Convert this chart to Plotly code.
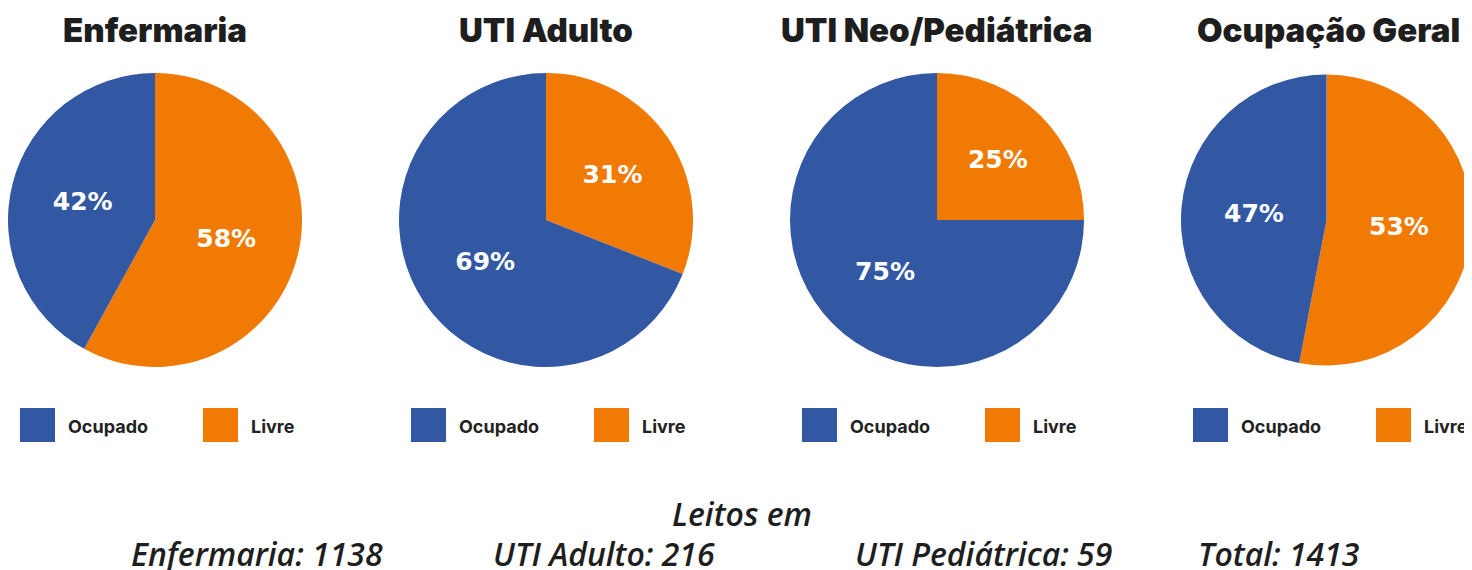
import plotly.graph_objects as go

titles = ["Enfermaria", "UTI Adulto", "UTI Neo/Pediátrica", "Ocupação Geral"]
labels = ["Ocupado", "Livre"]
ocupado = [42, 69, 75, 47]
livre = [58, 31, 25, 53]
footer_head = "Leitos em"
footer_items = ["Enfermaria: 1138", "UTI Adulto: 216", "UTI Pediátrica: 59", "Total: 1413"]

colors = {"Ocupado": "#3258A3", "Livre": "#F07A04"}
OFF = 8  # page body margin
W, H = 1472 - OFF, 570 - OFF
centers = [155, 546, 937, 1328]
R = 147
cy = 220


def px(x):
    return (x - OFF) / W


def py(y):
    return 1 - (y - OFF) / H


fig = go.Figure()
for i, t in enumerate(titles):
    cx = centers[i]
    x0 = max(0, px(cx - R))
    x1 = min(1, px(cx + R))
    slice_labels = ["Livre", "Ocupado"]
    fig.add_trace(go.Pie(
        labels=slice_labels, values=[livre[i], ocupado[i]],
        sort=False, direction="clockwise", rotation=0,
        marker=dict(colors=[colors[l] for l in slice_labels], line=dict(width=0)),
        texttemplate="%{percent:.0%}", textposition="inside",
        insidetextorientation="horizontal",
        textfont=dict(family="DejaVu Sans", size=25, color="white", weight=700),
        domain=dict(x=[x0, x1], y=[py(cy + R), py(cy - R)]),
        showlegend=False, hoverinfo="label+percent",
    ))
    fig.add_annotation(text=t, x=px(cx), y=py(30), xref="paper", yref="paper",
                       showarrow=False, xanchor="center", yanchor="middle",
                       font=dict(family="Inter", size=33, color="#1E1E1E", weight=900))
    off = 391 * i
    for j, lab in enumerate(labels):
        sx = 20 + off + j * 183
        fig.add_shape(type="rect", xref="paper", yref="paper",
                      x0=px(sx), x1=px(sx + 35), y0=py(442), y1=py(408),
                      fillcolor=colors[lab], line=dict(width=0))
        fig.add_annotation(text=lab, x=px(sx + 46), y=py(426), xref="paper", yref="paper",
                           showarrow=False, xanchor="left", yanchor="middle",
                           font=dict(family="Inter", size=18, color="#222222", weight=700))

fig.add_annotation(text=footer_head, x=px(742), y=py(513), xref="paper", yref="paper",
                   showarrow=False, xanchor="center", yanchor="middle",
                   font=dict(family="Open Sans", size=32, color="#1E1E1E", weight=600, style="italic"))
fcx = [257, 604, 983, 1279]
for k, s in enumerate(footer_items):
    fig.add_annotation(text=s, x=px(fcx[k]), y=py(553), xref="paper", yref="paper",
                       showarrow=False, xanchor="center", yanchor="middle",
                       font=dict(family="Open Sans", size=32, color="#1E1E1E", weight=600, style="italic"))

fig.update_layout(width=W, height=H, margin=dict(l=0, r=0, t=0, b=0),
                  paper_bgcolor="white", plot_bgcolor="white")
fig.write_html("out.html")
